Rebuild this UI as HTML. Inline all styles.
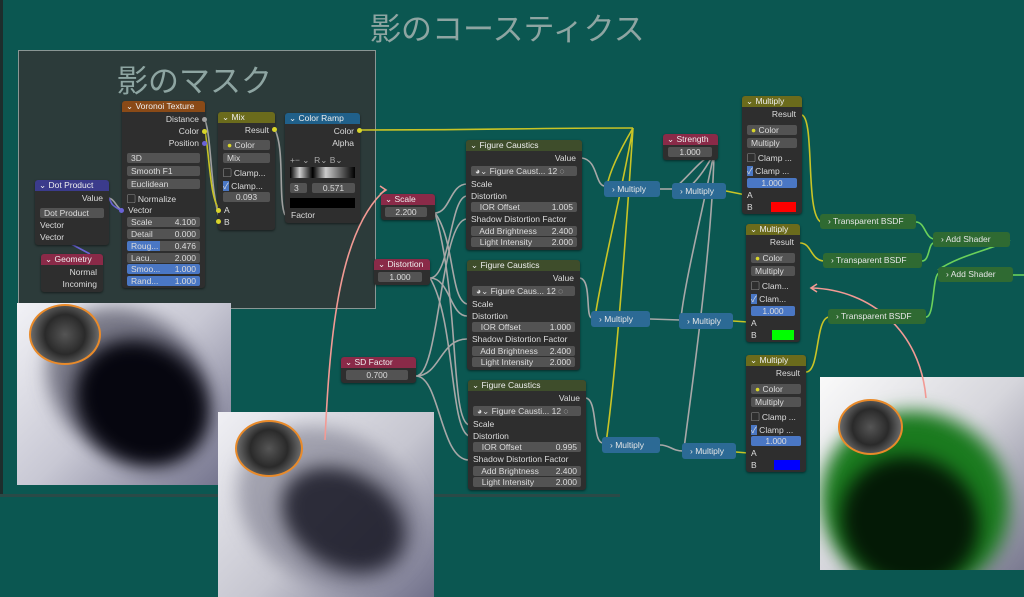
<!DOCTYPE html>
<html><head><meta charset="utf-8">
<style>
*{margin:0;padding:0;box-sizing:border-box}
body{width:1024px;height:597px;overflow:hidden;background:#0b5751;position:relative;font-family:"Liberation Sans","Noto Sans CJK JP",sans-serif;font-size:8.5px;color:#dcdcdc}
.a{position:absolute}
.n{position:absolute;background:#2e2e2e;border-radius:3px;box-shadow:0 1px 2px rgba(0,0,0,.5)}
.h{height:11px;line-height:11px;padding-left:4px;border-radius:3px 3px 0 0;color:#eee;white-space:nowrap;overflow:hidden}
.r{position:absolute;white-space:nowrap}
.f{position:absolute;background:#535353;border-radius:2px;height:10px;line-height:10px;padding:0 4px;white-space:nowrap;overflow:hidden}
.b{background:#4a77c4}
.s{position:absolute;width:5px;height:5px;border-radius:50%;background:#a0a0a0}
.y{background:#d8d52a}.p{background:#6a63d6}.g{background:#6bd15a}
.t{color:#8ea5a2;font-size:31px;position:absolute;white-space:nowrap}
.m{position:absolute;background:#2c6a95;border-radius:3px;height:16px;line-height:16px;padding-left:8px;color:#e6e6e6;white-space:nowrap}
.tb{position:absolute;background:#2f6a32;border-radius:3px;height:15px;line-height:15px;padding-left:8px;color:#e6e6e6;white-space:nowrap}
.img{position:absolute;overflow:hidden}
.blob{position:absolute;border-radius:50%;filter:blur(9px)}
.dia{position:absolute;border-radius:50%;border:2px solid #e88a2a;background:radial-gradient(circle,#555 0%,#2a2a2a 45%,#666 75%,#999 100%)}
</style></head><body>
<div class="a" style="left:0;top:0;width:3px;height:497px;background:#1d2d2c"></div>
<div class="a" style="left:0;top:494px;width:620px;height:3px;background:#2a4a47"></div>
<div class="t" style="left:370px;top:4px">影のコースティクス</div>
<div class="a" style="left:18px;top:50px;width:358px;height:259px;background:#2c3b3a;border:1px solid #8a9694"></div>
<div class="t" style="left:117px;top:56px">影のマスク</div>

<!-- images -->
<div class="img" style="left:17px;top:303px;width:214px;height:182px;background:linear-gradient(135deg,#f2f2f6 0%,#c8c8d4 50%,#70708a 100%)">
<div class="blob" style="left:25px;top:10px;width:170px;height:140px;background:rgba(40,40,60,.55);transform:rotate(35deg)"></div>
<div class="blob" style="left:55px;top:40px;width:140px;height:120px;background:#06060f;transform:rotate(35deg)"></div>
<div class="dia" style="left:12px;top:1px;width:72px;height:61px"></div></div>
<div class="img" style="left:218px;top:412px;width:216px;height:185px;background:linear-gradient(135deg,#f0f0f4 0%,#c6c6d0 55%,#70708a 100%)">
<div class="blob" style="left:15px;top:20px;width:190px;height:150px;background:rgba(90,90,110,.45);transform:rotate(30deg)"></div>
<div class="blob" style="left:60px;top:60px;width:130px;height:95px;background:rgba(25,25,38,.85);transform:rotate(30deg)"></div>
<div class="dia" style="left:17px;top:8px;width:68px;height:57px"></div></div>
<div class="img" style="left:820px;top:377px;width:204px;height:193px;background:linear-gradient(135deg,#fafafa 0%,#d6d6dc 50%,#7a7a90 100%)">
<div class="blob" style="left:0px;top:35px;width:190px;height:180px;background:#1a7a1e;transform:rotate(25deg)"></div>
<div class="blob" style="left:20px;top:80px;width:140px;height:130px;background:#041a06;transform:rotate(25deg)"></div>
<div class="dia" style="left:18px;top:22px;width:65px;height:56px"></div></div>

<!-- wires -->
<svg class="a" style="left:0;top:0" width="1024" height="597">
<g fill="none" stroke-width="1.6">
<path d="M360 130 C500 130 520 128 633 128" stroke="#c9c426"/>
<path d="M633 128 C620 150 610 170 607 186 M633 128 C620 200 600 280 595 318 M633 128 C625 250 615 380 606 443" stroke="#c9c426"/>
<path d="M275 130 C285 150 278 200 285 215" stroke="#a0a0a0"/>
<path d="M205 120 C212 140 210 190 220 220" stroke="#a0a0a0"/>
<path d="M205 131 C210 160 210 200 220 210" stroke="#c9c426"/>
<path d="M109 198 C115 200 115 205 121 210" stroke="#a0a0a0"/>
<path d="M109 198 C112 205 112 205 120 210" stroke="#6a63d6"/>
<path d="M60 238 L90 254" stroke="#6a63d6"/>
<g stroke="#a8a8a8">
<path d="M435 213 C450 213 450 184 467 184"/><path d="M435 213 C455 240 450 300 467 304"/><path d="M435 213 C460 300 450 420 469 425"/>
<path d="M430 278 C450 278 450 196 467 196"/><path d="M430 278 C450 278 450 316 467 316"/><path d="M430 278 C455 320 450 430 469 436"/>
<path d="M416 376 C440 376 440 219 467 219"/><path d="M416 376 C440 376 440 339 467 339"/><path d="M416 376 C440 376 440 460 469 460"/>
<path d="M582 158 C598 160 595 186 605 186"/><path d="M580 278 C592 280 585 318 592 318"/><path d="M586 398 C598 400 592 443 603 443"/>
<path d="M660 189 L673 189"/><path d="M650 319 L680 320"/><path d="M660 445 C670 445 672 451 683 451"/>
<path d="M714 153 C700 160 690 175 676 187"/><path d="M714 153 C705 200 685 280 681 318"/><path d="M714 153 C712 250 690 400 684 449"/>
<path d="M714 153 C700 180 680 200 676 190"/>
</g>
<path d="M726 191 L746 195" stroke="#c9c426"/><path d="M733 321 L748 322" stroke="#c9c426"/><path d="M736 452 L748 453" stroke="#c9c426"/>
<path d="M802 115 C815 120 805 215 821 222" stroke="#c9c426"/>
<path d="M800 243 C812 243 810 260 824 261" stroke="#c9c426"/>
<path d="M806 372 C820 372 815 318 829 317" stroke="#c9c426"/>
<g stroke="#6bd15a">
<path d="M916 222 C925 222 925 238 934 239"/><path d="M922 261 C930 261 928 243 934 243"/>
<path d="M926 317 C935 317 932 275 939 273"/><path d="M1010 240 C990 250 960 255 938 270"/><path d="M1013 275 L1024 275"/>
</g>
<path d="M325 440 C330 330 340 230 385 190" stroke="#f29a94"/>
<path d="M380 186 L386 190 L380 194" stroke="#f29a94"/>
<path d="M926 398 C920 330 870 290 812 288" stroke="#f29a94"/>
<path d="M817 284 L811 288 L817 292" stroke="#f29a94"/>
</g></svg>

<!-- Voronoi -->
<div class="n" style="left:122px;top:101px;width:83px;height:187px">
<div class="h" style="background:#8a4a17">⌄ Voronoi Texture</div>
<div class="r" style="right:6px;top:13px">Distance</div><div class="r" style="right:6px;top:25px">Color</div><div class="r" style="right:6px;top:37px">Position</div>
<div class="f" style="left:5px;top:52px;width:73px">3D</div>
<div class="f" style="left:5px;top:65px;width:73px">Smooth F1</div>
<div class="f" style="left:5px;top:78px;width:73px">Euclidean</div>
<div class="r" style="left:5px;top:92px">▢ Normalize</div>
<div class="r" style="left:6px;top:104px">Vector</div>
<div class="f" style="left:5px;top:116px;width:73px">Scale<span style="float:right">4.100</span></div>
<div class="f" style="left:5px;top:128px;width:73px">Detail<span style="float:right">0.000</span></div>
<div class="f" style="left:5px;top:140px;width:73px;background:linear-gradient(90deg,#4a77c4 45%,#535353 45%)">Roug...<span style="float:right">0.476</span></div>
<div class="f" style="left:5px;top:152px;width:73px">Lacu...<span style="float:right">2.000</span></div>
<div class="f b" style="left:5px;top:163px;width:73px">Smoo...<span style="float:right">1.000</span></div>
<div class="f b" style="left:5px;top:175px;width:73px">Rand...<span style="float:right">1.000</span></div>
</div>
<div class="s" style="left:202px;top:117px"></div><div class="s y" style="left:202px;top:129px"></div><div class="s p" style="left:202px;top:141px"></div><div class="s p" style="left:119px;top:208px"></div>
<!-- Mix -->
<div class="n" style="left:218px;top:112px;width:57px;height:118px">
<div class="h" style="background:#6b6b1c">⌄ Mix</div>
<div class="r" style="right:6px;top:13px">Result</div>
<div class="f" style="left:5px;top:28px;width:47px"><span style="color:#d8d52a">●</span> Color</div>
<div class="f" style="left:5px;top:41px;width:47px">Mix</div>
<div class="r" style="left:5px;top:55px">▢ Clamp...</div>
<div class="r" style="left:5px;top:68px"><span style="background:#4a77c4">✓</span> Clamp...</div>
<div class="f" style="left:5px;top:80px;width:47px;text-align:center">0.093</div>
<div class="r" style="left:6px;top:93px">A</div><div class="r" style="left:6px;top:105px">B</div></div>
<div class="s y" style="left:272px;top:127px"></div><div class="s y" style="left:216px;top:208px"></div><div class="s y" style="left:216px;top:219px"></div>
<!-- Color ramp -->
<div class="n" style="left:285px;top:113px;width:75px;height:110px">
<div class="h" style="background:#20608a">⌄ Color Ramp</div>
<div class="r" style="right:6px;top:13px">Color</div><div class="r" style="right:6px;top:25px">Alpha</div>
<div class="r" style="left:5px;top:42px;color:#aaa">+− ⌄ &nbsp;R⌄ B⌄</div>
<div class="a" style="left:5px;top:54px;width:65px;height:11px;background:linear-gradient(90deg,#000,#ccc 15%,#000 35%,#ccc 55%,#000)"></div>
<div class="f" style="left:5px;top:70px;width:17px">3</div><div class="f" style="left:27px;top:70px;width:43px;text-align:center">0.571</div>
<div class="a" style="left:5px;top:85px;width:65px;height:10px;background:#000"></div>
<div class="r" style="left:6px;top:97px">Factor</div></div>
<div class="s y" style="left:357px;top:128px"></div>
<!-- Dot product -->
<div class="n" style="left:35px;top:180px;width:74px;height:65px">
<div class="h" style="background:#3b3b8c">⌄ Dot Product</div>
<div class="r" style="right:6px;top:13px">Value</div>
<div class="f" style="left:5px;top:28px;width:64px">Dot Product</div>
<div class="r" style="left:5px;top:40px">Vector</div><div class="r" style="left:5px;top:52px">Vector</div></div>
<!-- Geometry -->
<div class="n" style="left:41px;top:254px;width:62px;height:38px">
<div class="h" style="background:#8a2a48">⌄ Geometry</div>
<div class="r" style="right:6px;top:13px">Normal</div><div class="r" style="right:6px;top:25px">Incoming</div></div>

<!-- value nodes -->
<div class="n" style="left:381px;top:194px;width:54px;height:26px"><div class="h" style="background:#8a2a48">⌄ Scale</div><div class="f" style="left:4px;top:13px;width:42px;text-align:center">2.200</div></div>
<div class="n" style="left:374px;top:259px;width:56px;height:26px"><div class="h" style="background:#8a2a48">⌄ Distortion</div><div class="f" style="left:4px;top:13px;width:44px;text-align:center">1.000</div></div>
<div class="n" style="left:341px;top:357px;width:75px;height:26px"><div class="h" style="background:#8a2a48">⌄ SD Factor</div><div class="f" style="left:5px;top:13px;width:62px;text-align:center">0.700</div></div>
<div class="n" style="left:663px;top:134px;width:55px;height:26px"><div class="h" style="background:#8a2a48">⌄ Strength</div><div class="f" style="left:5px;top:13px;width:44px;text-align:center">1.000</div></div>

<!-- figure caustics -->
<div class="n" style="left:466px;top:140px;width:116px;height:110px"><div class="h" style="background:#3e4d2b">⌄ Figure Caustics</div>
<div class="r" style="right:6px;top:13px">Value</div>
<div class="f" style="left:5px;top:26px;width:106px">◕⌄ Figure Caust... 12 ◌</div>
<div class="r" style="left:5px;top:39px">Scale</div><div class="r" style="left:5px;top:51px">Distortion</div>
<div class="f" style="left:5px;top:62px;width:106px">&nbsp; IOR Offset<span style="float:right">1.005</span></div>
<div class="r" style="left:5px;top:74px">Shadow Distortion Factor</div>
<div class="f" style="left:5px;top:86px;width:106px">&nbsp; Add Brightness<span style="float:right">2.400</span></div>
<div class="f" style="left:5px;top:97px;width:106px">&nbsp; Light Intensity<span style="float:right">2.000</span></div></div>
<div class="n" style="left:467px;top:260px;width:113px;height:110px"><div class="h" style="background:#3e4d2b">⌄ Figure Caustics</div>
<div class="r" style="right:6px;top:13px">Value</div>
<div class="f" style="left:5px;top:26px;width:103px">◕⌄ Figure Caus... 12 ◌</div>
<div class="r" style="left:5px;top:39px">Scale</div><div class="r" style="left:5px;top:51px">Distortion</div>
<div class="f" style="left:5px;top:62px;width:103px">&nbsp; IOR Offset<span style="float:right">1.000</span></div>
<div class="r" style="left:5px;top:74px">Shadow Distortion Factor</div>
<div class="f" style="left:5px;top:86px;width:103px">&nbsp; Add Brightness<span style="float:right">2.400</span></div>
<div class="f" style="left:5px;top:97px;width:103px">&nbsp; Light Intensity<span style="float:right">2.000</span></div></div>
<div class="n" style="left:468px;top:380px;width:118px;height:110px"><div class="h" style="background:#3e4d2b">⌄ Figure Caustics</div>
<div class="r" style="right:6px;top:13px">Value</div>
<div class="f" style="left:5px;top:26px;width:108px">◕⌄ Figure Causti... 12 ◌</div>
<div class="r" style="left:5px;top:39px">Scale</div><div class="r" style="left:5px;top:51px">Distortion</div>
<div class="f" style="left:5px;top:62px;width:108px">&nbsp; IOR Offset<span style="float:right">0.995</span></div>
<div class="r" style="left:5px;top:74px">Shadow Distortion Factor</div>
<div class="f" style="left:5px;top:86px;width:108px">&nbsp; Add Brightness<span style="float:right">2.400</span></div>
<div class="f" style="left:5px;top:97px;width:108px">&nbsp; Light Intensity<span style="float:right">2.000</span></div></div>

<!-- small multiply -->
<div class="m" style="left:604px;top:181px;width:56px">› Multiply</div>
<div class="m" style="left:672px;top:183px;width:54px">› Multiply</div>
<div class="m" style="left:591px;top:311px;width:59px">› Multiply</div>
<div class="m" style="left:679px;top:313px;width:54px">› Multiply</div>
<div class="m" style="left:602px;top:437px;width:58px">› Multiply</div>
<div class="m" style="left:682px;top:443px;width:54px">› Multiply</div>

<!-- color multiply -->
<div class="n" style="left:742px;top:96px;width:60px;height:118px"><div class="h" style="background:#6b6b1c">⌄ Multiply</div>
<div class="r" style="right:6px;top:13px">Result</div>
<div class="f" style="left:5px;top:29px;width:50px"><span style="color:#d8d52a">●</span> Color</div>
<div class="f" style="left:5px;top:42px;width:50px">Multiply</div>
<div class="r" style="left:5px;top:56px">▢ Clamp ...</div><div class="r" style="left:5px;top:69px"><span style="background:#4a77c4">✓</span> Clamp ...</div>
<div class="f b" style="left:5px;top:82px;width:50px;text-align:center">1.000</div>
<div class="r" style="left:5px;top:94px">A</div><div class="r" style="left:5px;top:106px">B</div>
<div class="a" style="left:29px;top:106px;width:25px;height:10px;background:#f00"></div></div>
<div class="n" style="left:746px;top:224px;width:54px;height:118px"><div class="h" style="background:#6b6b1c">⌄ Multiply</div>
<div class="r" style="right:6px;top:13px">Result</div>
<div class="f" style="left:5px;top:29px;width:44px"><span style="color:#d8d52a">●</span> Color</div>
<div class="f" style="left:5px;top:42px;width:44px">Multiply</div>
<div class="r" style="left:5px;top:56px">▢ Clam...</div><div class="r" style="left:5px;top:69px"><span style="background:#4a77c4">✓</span> Clam...</div>
<div class="f b" style="left:5px;top:82px;width:44px;text-align:center">1.000</div>
<div class="r" style="left:5px;top:94px">A</div><div class="r" style="left:5px;top:106px">B</div>
<div class="a" style="left:26px;top:106px;width:22px;height:10px;background:#0f0"></div></div>
<div class="n" style="left:746px;top:355px;width:60px;height:117px"><div class="h" style="background:#6b6b1c">⌄ Multiply</div>
<div class="r" style="right:6px;top:13px">Result</div>
<div class="f" style="left:5px;top:29px;width:50px"><span style="color:#d8d52a">●</span> Color</div>
<div class="f" style="left:5px;top:42px;width:50px">Multiply</div>
<div class="r" style="left:5px;top:56px">▢ Clamp ...</div><div class="r" style="left:5px;top:69px"><span style="background:#4a77c4">✓</span> Clamp ...</div>
<div class="f b" style="left:5px;top:81px;width:50px;text-align:center">1.000</div>
<div class="r" style="left:5px;top:93px">A</div><div class="r" style="left:5px;top:105px">B</div>
<div class="a" style="left:28px;top:105px;width:26px;height:10px;background:#00f"></div></div>

<div class="tb" style="left:820px;top:214px;width:96px">› Transparent BSDF</div>
<div class="tb" style="left:823px;top:253px;width:99px">› Transparent BSDF</div>
<div class="tb" style="left:828px;top:309px;width:98px">› Transparent BSDF</div>
<div class="tb" style="left:933px;top:232px;width:77px">› Add Shader</div>
<div class="tb" style="left:938px;top:267px;width:75px">› Add Shader</div>
</body></html>
